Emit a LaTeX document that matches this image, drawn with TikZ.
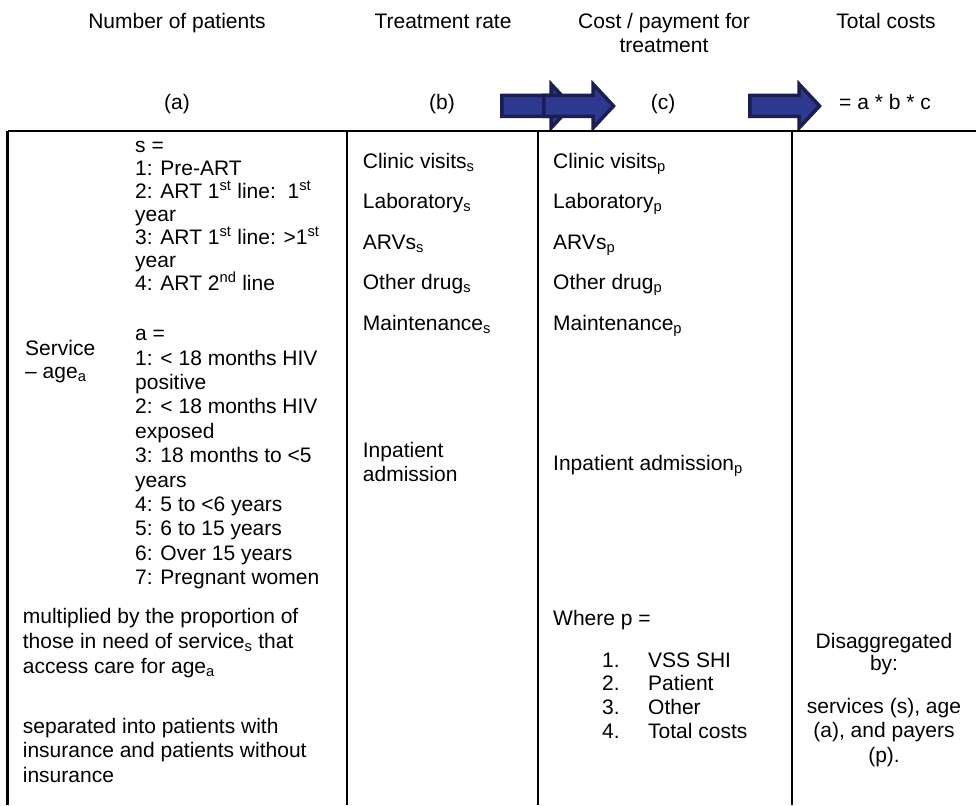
\documentclass[tikz,border=0pt]{standalone}
\usepackage{fontspec}
\setmainfont{Liberation Sans}
\usepackage{xcolor}
\usepackage{tikz}

\definecolor{arrowfill}{RGB}{46,58,144}
\definecolor{arrowline}{RGB}{26,30,80}

\begin{document}
\begin{tikzpicture}[x=1pt, y=-1pt,
        every node/.style={inner sep=0pt, font=\fontsize{21}{24}\selectfont},
        spacing/.style={font=\fontsize{21}{#1}\selectfont},
        cell/.style={anchor=base west, align=left},
        head/.style={anchor=base, align=center},
        rule/.style={line width=2.2pt},
        flowarrow/.style={draw=arrowline, fill=arrowfill, line width=3.5pt, line join=miter}]
        \useasboundingbox (0,0) rectangle (976,805);

        \node[head] (hpat) at (177,29) {Number of patients};
        \node[head] (hrate) at (443,29) {Treatment rate};
        \node[head] (hcost) at (664,53) {Cost / payment for\\treatment};
        \node[head] (htot) at (886,29) {Total costs};

        \node[head] (lbla) at (177,110) {(a)};
        \node[head] (lblb) at (442,110) {(b)};
        \node[head] (lblc) at (663,110) {(c)};
        \node[head] (lbld) at (885,110) {= a * b * c};

        \draw[flowarrow] (501.75,95.5) -- (551,95.5) -- (551,84) -- (571.5,106) -- (551,128) -- (551,116.5) -- (501.75,116.5) -- cycle;
        \draw[flowarrow] (543.75,95.5) -- (593,95.5) -- (593,84) -- (613.5,106) -- (593,128) -- (593,116.5) -- (543.75,116.5) -- cycle;
        \draw[flowarrow] (749.75,95.5) -- (799,95.5) -- (799,84) -- (819.5,106) -- (799,128) -- (799,116.5) -- (749.75,116.5) -- cycle;

        \draw[rule] (7.5,131) -- (976,131)
                (7.5,131) -- (7.5,805)
                (347,131) -- (347,805)
                (538,131) -- (538,805)
                (792,131) -- (792,805);

        \node[cell, spacing=23] (svcage) at (25,378) {Service\\-- age\textsubscript{a}};
        \node[cell, spacing=23] (svclist) at (135,290) {s =\\1: Pre-ART\\2: ART 1\textsuperscript{st} line:\ \ 1\textsuperscript{st}\\year\\3: ART 1\textsuperscript{st} line: >1\textsuperscript{st}\\year\\4: ART 2\textsuperscript{nd} line};
        \node[cell, spacing=24.4] (agelist) at (135,584.6) {a =\\1: < 18 months HIV\\positive\\2: < 18 months HIV\\exposed\\3: 18 months to <5\\years\\4: 5 to <6 years\\5: 6 to 15 years\\6: Over 15 years\\7: Pregnant women};
        \node[cell, spacing=25] (access) at (22.7,673) {multiplied by the proportion of\\those in need of service\textsubscript{s} that\\access care for age\textsubscript{a}};
        \node[cell, spacing=24.5] (insured) at (22.7,782) {separated into patients with\\insurance and patients without\\insurance};

        \node[cell] (visits) at (362.7,168) {Clinic visits\textsubscript{s}};
        \node[cell] (lab) at (362.7,208.5) {Laboratory\textsubscript{s}};
        \node[cell] (arv) at (362.7,249) {ARVs\textsubscript{s}};
        \node[cell] (drug) at (362.7,289.5) {Other drug\textsubscript{s}};
        \node[cell] (maint) at (362.7,330) {Maintenance\textsubscript{s}};
        \node[cell] (inpat) at (362.7,481) {Inpatient\\admission};

        \node[cell] (visitsp) at (553,168) {Clinic visits\textsubscript{p}};
        \node[cell] (labp) at (553,208.5) {Laboratory\textsubscript{p}};
        \node[cell] (arvp) at (553,249) {ARVs\textsubscript{p}};
        \node[cell] (drugp) at (553,289.5) {Other drug\textsubscript{p}};
        \node[cell] (maintp) at (553,330) {Maintenance\textsubscript{p}};
        \node[cell] (inpatp) at (553,470) {Inpatient admission\textsubscript{p}};
        \node[cell] (payer) at (553,625) {Where p =};
        \node[cell, spacing=23.7] (payernum) at (602,738.1) {1.\\2.\\3.\\4.};
        \node[cell, spacing=23.7] (payerlist) at (648,738.1) {VSS SHI\\Patient\\Other\\Total costs};

        \node[head, spacing=22] (disagg) at (884,670) {Disaggregated\\by:};
        \node[head, spacing=24.5] (dims) at (884,762) {services (s), age\\(a), and payers\\(p).};
\end{tikzpicture}
\end{document}
